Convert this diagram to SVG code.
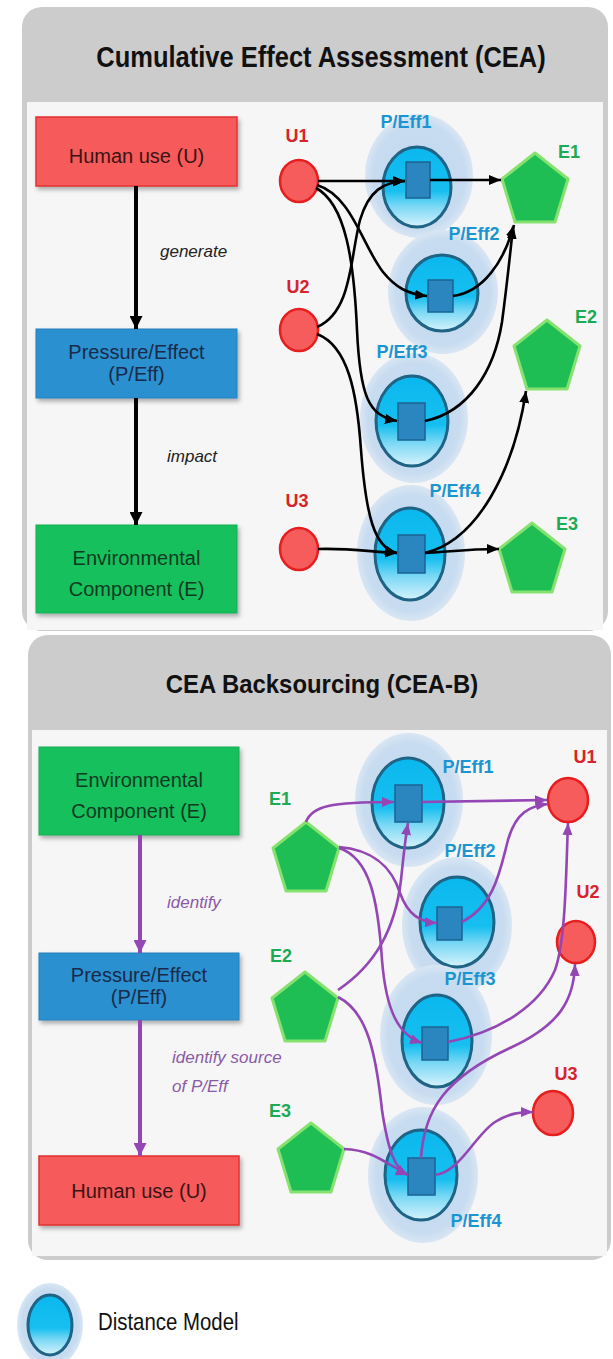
<svg xmlns="http://www.w3.org/2000/svg" width="613" height="1359" viewBox="0 0 613 1359">
<defs>
<style>
.title{font-family:"Liberation Sans",Arial,sans-serif;font-weight:bold;fill:#111;text-anchor:middle}
.box{font-family:"Liberation Sans",Arial,sans-serif;text-anchor:middle;font-size:20px}
.verb{font-family:"Liberation Sans",Arial,sans-serif;font-style:italic;font-size:17px}
.lbl{font-family:"Liberation Sans",Arial,sans-serif;font-weight:bold;font-size:18px;text-anchor:middle}
.u{fill:#d8232a}.e{fill:#1daa55}.p{fill:#1b95d2}
.halo{fill:url(#haloG)}
.dm{fill:url(#dmG);stroke:#1f6385;stroke-width:3}
.sq{fill:#2b86bf;stroke:#1b6394;stroke-width:1.5}
.uc{fill:#f65c5c;stroke:#e61e1e;stroke-width:2.5}
.pent{fill:#1fbe55;stroke:#86e26f;stroke-width:3;stroke-linejoin:round}
.blk{fill:none;stroke:#000;stroke-width:2.6;marker-end:url(#ahB)}
.pur{fill:none;stroke:#9346b4;stroke-width:2.6;marker-end:url(#ahP)}
</style>
<linearGradient id="dmG" x1="0" y1="0" x2="0" y2="1">
<stop offset="0" stop-color="#0ab8ee"/>
<stop offset="0.55" stop-color="#17bff0"/>
<stop offset="0.74" stop-color="#7ad8f5"/>
<stop offset="1" stop-color="#d6f2fb"/>
</linearGradient>
<radialGradient id="haloG" cx="0.5" cy="0.5" r="0.5">
<stop offset="0" stop-color="#c2d8ee"/>
<stop offset="0.85" stop-color="#c7dcf0"/>
<stop offset="1" stop-color="#d9e6f3"/>
</radialGradient>
<filter id="sh" x="-10%" y="-10%" width="125%" height="135%">
<feDropShadow dx="2" dy="3" stdDeviation="2" flood-color="#000" flood-opacity="0.3"/>
</filter>
<marker id="ahB" markerUnits="userSpaceOnUse" markerWidth="12" markerHeight="10" refX="12" refY="5" orient="auto">
<path d="M0,0 L12,5 L0,10 z" fill="#000"/>
</marker>
<marker id="ahP" markerUnits="userSpaceOnUse" markerWidth="12" markerHeight="10" refX="12" refY="5" orient="auto">
<path d="M0,0 L12,5 L0,10 z" fill="#9346b4"/>
</marker>
<marker id="ahBig" markerUnits="userSpaceOnUse" markerWidth="13" markerHeight="13" refX="13" refY="6.5" orient="auto">
<path d="M0,0 L13,6.5 L0,13 z" fill="#000"/>
</marker>
<marker id="ahBigP" markerUnits="userSpaceOnUse" markerWidth="13" markerHeight="13" refX="13" refY="6.5" orient="auto">
<path d="M0,0 L13,6.5 L0,13 z" fill="#9346b4"/>
</marker>
</defs>
<rect width="613" height="1359" fill="#ffffff"/>

<!-- Panel 1 -->
<g id="panel-cea">
<rect x="22" y="7" width="586" height="624" rx="20" fill="#cccccc"/>
<rect x="27" y="102" width="576" height="528" fill="#f6f6f6"/>
<text class="title" transform="translate(321,67) scale(0.85,1)" x="0" y="0" font-size="30">Cumulative Effect Assessment (CEA)</text>
</g>

<g id="box-u-top">
<rect x="36" y="117" width="201" height="69" fill="#f65a5a" stroke="#e23232" stroke-width="1.5" filter="url(#sh)"/>
<text class="box" x="136.5" y="163" fill="#3a1414">Human use (U)</text>
</g>
<g id="box-p-top">
<rect x="36" y="329" width="201" height="69" fill="#2a90d0" stroke="#2580bb" stroke-width="1" filter="url(#sh)"/>
<text class="box" x="136.5" y="359" fill="#1a2a48" font-size="18.5">Pressure/Effect</text>
<text class="box" x="136.5" y="381" fill="#1a2a48" font-size="18.5">(P/Eff)</text>
</g>
<g id="box-e-top">
<rect x="36" y="525" width="201" height="88" fill="#16c05c" stroke="#14ad52" stroke-width="1" filter="url(#sh)"/>
<text class="box" x="136.5" y="565" fill="#0f3a1f">Environmental</text>
<text class="box" x="136.5" y="596" fill="#0f3a1f">Component (E)</text>
</g>
<g id="flow-top">
<line x1="136" y1="186" x2="136" y2="329" stroke="#000" stroke-width="4" marker-end="url(#ahBig)"/>
<line x1="136" y1="398" x2="136" y2="525" stroke="#000" stroke-width="4" marker-end="url(#ahBig)"/>
<text class="verb" x="160" y="257" fill="#222">generate</text>
<text class="verb" x="167" y="462" fill="#222">impact</text>
</g>

<!-- top graph nodes -->
<g id="t-peff1">
<ellipse class="halo" cx="419" cy="176" rx="54" ry="62"/>
<ellipse class="dm" cx="417" cy="187" rx="34" ry="40"/>
<rect class="sq" x="406" y="162" width="24" height="36"/>
<text class="lbl p" x="406" y="128">P/Eff1</text>
</g>
<g id="t-peff2">
<ellipse class="halo" cx="443" cy="292" rx="55" ry="62"/>
<ellipse class="dm" cx="442" cy="293" rx="36" ry="38"/>
<rect class="sq" x="428" y="280" width="25" height="32"/>
<text class="lbl p" x="474" y="240">P/Eff2</text>
</g>
<g id="t-peff3">
<ellipse class="halo" cx="414" cy="418" rx="54" ry="65"/>
<ellipse class="dm" cx="412" cy="421" rx="36" ry="45"/>
<rect class="sq" x="398" y="403" width="27" height="37"/>
<text class="lbl p" x="402" y="358">P/Eff3</text>
</g>
<g id="t-peff4">
<ellipse class="halo" cx="411" cy="553" rx="54" ry="68"/>
<ellipse class="dm" cx="410" cy="554" rx="35" ry="46"/>
<rect class="sq" x="398" y="535" width="27" height="38"/>
<text class="lbl p" x="455" y="497">P/Eff4</text>
</g>
<g id="t-u1">
<ellipse class="uc" cx="299" cy="181" rx="19" ry="21"/>
<text class="lbl u" x="297" y="142">U1</text>
</g>
<g id="t-u2">
<ellipse class="uc" cx="299" cy="330" rx="19" ry="21"/>
<text class="lbl u" x="298" y="293">U2</text>
</g>
<g id="t-u3">
<ellipse class="uc" cx="299" cy="549" rx="19" ry="21"/>
<text class="lbl u" x="297" y="507">U3</text>
</g>
<g id="t-e1">
<polygon class="pent" points="535,153 568,179 555,222 515,222 502,179"/>
<text class="lbl e" x="569" y="158">E1</text>
</g>
<g id="t-e2">
<polygon class="pent" points="547,320 580,346 567,389 527,389 514,346"/>
<text class="lbl e" x="586" y="323">E2</text>
</g>
<g id="t-e3">
<polygon class="pent" points="532,523 565,549 552,592 512,592 499,549"/>
<text class="lbl e" x="567" y="530">E3</text>
</g>

<g id="connectors-top">
<path class="blk" d="M318,181 L405,181"/>
<path class="blk" d="M317,185 C352,196 362,245 383,272 C396,288 408,294 427,296"/>
<path class="blk" d="M316,188 C346,204 354,262 357,330 C360,395 368,416 397,421"/>
<path class="blk" d="M317,327 C352,312 350,258 360,220 C369,190 384,182 405,181"/>
<path class="blk" d="M317,334 C348,346 357,392 361,450 C366,515 374,548 397,553"/>
<path class="blk" d="M318,549 C350,548 372,552 397,553"/>
<path class="blk" d="M430,180 L501,180"/>
<path class="blk" d="M453,296 C483,292 504,262 514,225"/>
<path class="blk" d="M425,421 C468,412 494,372 502,322 C507,285 510,255 513,227"/>
<path class="blk" d="M425,553 C478,540 514,470 526,391"/>
<path class="blk" d="M425,553 C455,551 472,549 499,549"/>
</g>

<!-- Panel 2 -->
<g id="panel-ceab">
<rect x="28" y="635" width="583" height="625" rx="20" fill="#cccccc"/>
<rect x="32" y="730" width="575" height="526" fill="#f6f6f6"/>
<text class="title" transform="translate(322,693) scale(0.92,1)" x="0" y="0" font-size="26">CEA Backsourcing (CEA-B)</text>
</g>

<g id="box-e-bot">
<rect x="39" y="747" width="200" height="88" fill="#16c05c" stroke="#14ad52" stroke-width="1" filter="url(#sh)"/>
<text class="box" x="139" y="787" fill="#0f3a1f">Environmental</text>
<text class="box" x="139" y="818" fill="#0f3a1f">Component (E)</text>
</g>
<g id="box-p-bot">
<rect x="39" y="953" width="200" height="67" fill="#2a90d0" stroke="#2580bb" stroke-width="1" filter="url(#sh)"/>
<text class="box" x="139" y="982" fill="#1a2a48" font-size="18.5">Pressure/Effect</text>
<text class="box" x="139" y="1004" fill="#1a2a48" font-size="18.5">(P/Eff)</text>
</g>
<g id="box-u-bot">
<rect x="39" y="1156" width="200" height="69" fill="#f65a5a" stroke="#e23232" stroke-width="1.5" filter="url(#sh)"/>
<text class="box" x="139" y="1198" fill="#3a1414">Human use (U)</text>
</g>
<g id="flow-bot">
<line x1="140" y1="835" x2="140" y2="953" stroke="#9346b4" stroke-width="4" marker-end="url(#ahBigP)"/>
<line x1="140" y1="1020" x2="140" y2="1156" stroke="#9346b4" stroke-width="4" marker-end="url(#ahBigP)"/>
<text class="verb" x="167" y="908" fill="#8a5aa6">identify</text>
<text class="verb" x="172" y="1063" fill="#8a5aa6">identify source</text>
<text class="verb" x="172" y="1092" fill="#8a5aa6">of P/Eff</text>
</g>

<g id="b-peff1">
<ellipse class="halo" cx="409" cy="800" rx="54" ry="67"/>
<ellipse class="dm" cx="408" cy="803" rx="36" ry="45"/>
<rect class="sq" x="395" y="785" width="27" height="37"/>
<text class="lbl p" x="468" y="773">P/Eff1</text>
</g>
<g id="b-peff2">
<ellipse class="halo" cx="457" cy="925" rx="55" ry="68"/>
<ellipse class="dm" cx="457" cy="922" rx="37" ry="45"/>
<rect class="sq" x="437" y="907" width="25" height="33"/>
<text class="lbl p" x="470" y="857">P/Eff2</text>
</g>
<g id="b-peff3">
<ellipse class="halo" cx="436" cy="1035" rx="56" ry="70"/>
<ellipse class="dm" cx="437" cy="1041" rx="35" ry="46"/>
<rect class="sq" x="422" y="1027" width="26" height="33"/>
<text class="lbl p" x="470" y="985">P/Eff3</text>
</g>
<g id="b-peff4">
<ellipse class="halo" cx="423" cy="1175" rx="55" ry="68"/>
<ellipse class="dm" cx="421" cy="1175" rx="36" ry="45"/>
<rect class="sq" x="408" y="1158" width="27" height="37"/>
<text class="lbl p" x="476" y="1227">P/Eff4</text>
</g>
<g id="b-u1">
<ellipse class="uc" cx="568" cy="800" rx="20" ry="22"/>
<text class="lbl u" x="585" y="763">U1</text>
</g>
<g id="b-u2">
<ellipse class="uc" cx="576" cy="942" rx="19" ry="21"/>
<text class="lbl u" x="588" y="898">U2</text>
</g>
<g id="b-u3">
<ellipse class="uc" cx="553" cy="1113" rx="20" ry="22"/>
<text class="lbl u" x="566" y="1080">U3</text>
</g>
<g id="b-e1">
<polygon class="pent" points="306,822 339,848 326,891 286,891 273,848"/>
<text class="lbl e" x="280" y="805">E1</text>
</g>
<g id="b-e2">
<polygon class="pent" points="305,972 338,998 325,1041 285,1041 272,998"/>
<text class="lbl e" x="281" y="962">E2</text>
</g>
<g id="b-e3">
<polygon class="pent" points="311,1123 344,1149 331,1192 291,1192 278,1149"/>
<text class="lbl e" x="280" y="1117">E3</text>
</g>

<g id="connectors-bot">
<path class="pur" d="M306,822 C312,806 330,802 394,802"/>
<path class="pur" d="M422,802 L547,800"/>
<path class="pur" d="M338,990 C375,965 395,930 401,880 C404,850 406,835 408,823"/>
<path class="pur" d="M339,847 C375,850 392,868 400,893 C408,915 420,922 437,923"/>
<path class="pur" d="M339,848 C370,858 378,900 382,960 C386,1010 398,1035 422,1043"/>
<path class="pur" d="M462,922 C495,905 500,870 508,840 C516,812 530,806 548,804"/>
<path class="pur" d="M448,1042 C500,1032 540,1005 555,970 C566,940 566,870 568,823"/>
<path class="pur" d="M338,997 C368,1012 376,1055 382,1110 C388,1150 395,1170 408,1175"/>
<path class="pur" d="M344,1149 C372,1150 384,1162 408,1175"/>
<path class="pur" d="M421,1158 C424,1110 445,1078 510,1048 C560,1025 574,1000 575,964"/>
<path class="pur" d="M435,1175 C460,1172 475,1135 495,1122 C510,1113 520,1112 533,1112"/>
</g>

<g id="legend">
<ellipse class="halo" cx="50" cy="1325" rx="33" ry="42"/>
<ellipse class="dm" cx="50" cy="1325" rx="22" ry="30"/>
<text transform="translate(98,1330) scale(0.85,1)" x="0" y="0" font-family="'Liberation Sans',Arial,sans-serif" font-size="24" fill="#111">Distance Model</text>
</g>
</svg>
